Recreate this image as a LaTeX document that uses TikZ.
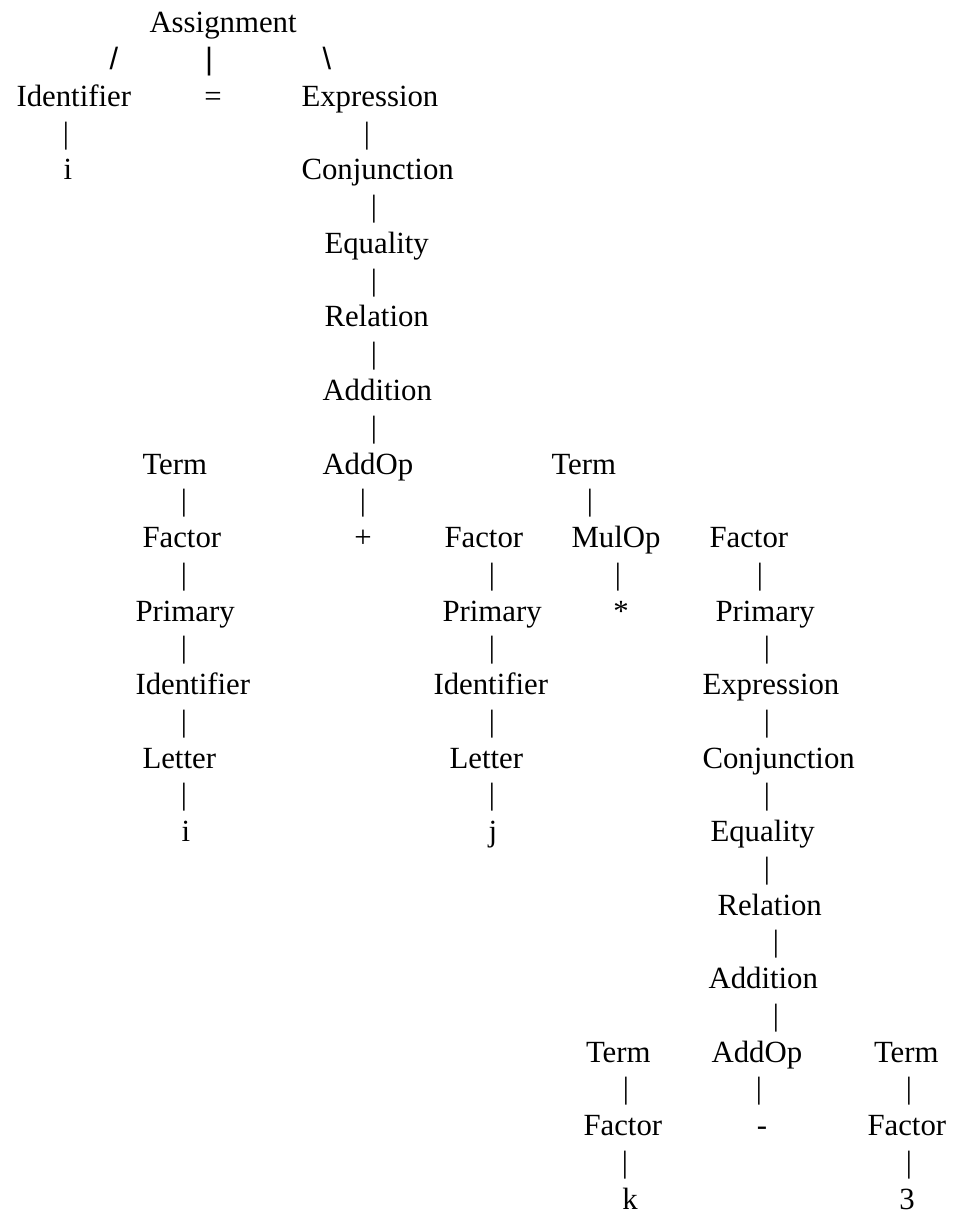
\documentclass[tikz,border=0pt]{standalone}
\usepackage{fontspec}
\setmainfont{Liberation Serif}
\newfontfamily\slfont{Liberation Sans}
\begin{document}
\begin{tikzpicture}[x=0.75pt,y=-27.5625pt,
  lbl/.style={anchor=base west,inner sep=0pt,outer sep=0pt,font=\fontsize{23.1}{27.7}\selectfont},
  ch/.style={anchor=base,inner sep=0pt,outer sep=0pt,font=\fontsize{23.1}{27.7}\selectfont},
  sl/.style={anchor=base,inner sep=0pt,outer sep=0pt,font=\slfont\fontsize{23.1}{27.7}\selectfont},
  bar/.style={ch}]
\useasboundingbox (0,0) rectangle (961,33.0612);
\begin{scope}[yshift=-24.75pt]
% row 0-4
\node[lbl] (asg) at (149.5,0) {Assignment};
\node[sl] (sa) at (114,1) {/};
\node[sl] (sb) at (209,1) {|};
\node[sl] (sc) at (327,1) {\textbackslash};
\node[lbl] (id1) at (16.5,2) {Identifier};
\node[ch] (eq) at (213,2) {=};
\node[lbl] (ex1) at (301.5,2) {Expression};
\node[bar] (b3a) at (66,3) {|};
\node[bar] (b3b) at (367,3) {|};
\node[ch] (i1) at (68,4) {i};
\node[lbl] (cj1) at (301.5,4) {Conjunction};
% middle column
\node[bar] (b5) at (374,5) {|};
\node[lbl] (eqa1) at (324.5,6) {Equality};
\node[bar] (b7) at (374,7) {|};
\node[lbl] (rel1) at (324.5,8) {Relation};
\node[bar] (b9) at (374,9) {|};
\node[lbl] (add1) at (322.5,10) {Addition};
\node[bar] (b11) at (374,11) {|};
% row 12
\node[lbl] (t1) at (142.5,12) {Term};
\node[lbl] (ao1) at (322.5,12) {AddOp};
\node[lbl] (t2) at (551.5,12) {Term};
\node[bar] (b13a) at (184,13) {|};
\node[bar] (b13b) at (363,13) {|};
\node[bar] (b13c) at (590,13) {|};
% row 14
\node[lbl] (f1) at (142.5,14) {Factor};
\node[ch] (plus) at (363,14) {+};
\node[lbl] (f2) at (444.5,14) {Factor};
\node[lbl] (mo) at (571.5,14) {MulOp};
\node[lbl] (f3) at (709.5,14) {Factor};
\node[bar] (b15a) at (184,15) {|};
\node[bar] (b15b) at (492,15) {|};
\node[bar] (b15c) at (618,15) {|};
\node[bar] (b15d) at (760,15) {|};
% row 16
\node[lbl] (p1) at (135.5,16) {Primary};
\node[ch] (star) at (621,16) {*};
\node[lbl] (p2) at (442.5,16) {Primary};
\node[lbl] (p3) at (715.5,16) {Primary};
\node[bar] (b17a) at (184,17) {|};
\node[bar] (b17b) at (492,17) {|};
\node[bar] (b17c) at (767,17) {|};
% row 18
\node[lbl] (id2) at (135.5,18) {Identifier};
\node[lbl] (id3) at (433.5,18) {Identifier};
\node[lbl] (ex2) at (702.5,18) {Expression};
\node[bar] (b19a) at (184,19) {|};
\node[bar] (b19b) at (492,19) {|};
\node[bar] (b19c) at (767,19) {|};
% row 20
\node[lbl] (le1) at (142.5,20) {Letter};
\node[lbl] (le2) at (449.5,20) {Letter};
\node[lbl] (cj2) at (702.5,20) {Conjunction};
\node[bar] (b21a) at (184,21) {|};
\node[bar] (b21b) at (492,21) {|};
\node[bar] (b21c) at (767,21) {|};
% row 22
\node[ch] (i2) at (186,22) {i};
\node[ch] (j) at (493,22) {j};
\node[lbl] (eqa2) at (710.5,22) {Equality};
\node[bar] (b23) at (767,23) {|};
\node[lbl] (rel2) at (717.5,24) {Relation};
\node[bar] (b25) at (776,25) {|};
\node[lbl] (add2) at (708.5,26) {Addition};
\node[bar] (b27) at (776,27) {|};
% row 28
\node[lbl] (t3) at (586,28) {Term};
\node[lbl] (ao2) at (711.5,28) {AddOp};
\node[lbl] (t4) at (874,28) {Term};
\node[bar] (b29a) at (626,29) {|};
\node[bar] (b29b) at (759,29) {|};
\node[bar] (b29c) at (909,29) {|};
% row 30
\node[lbl] (f4) at (583.5,30) {Factor};
\node[ch] (minus) at (762,30) {-};
\node[lbl] (f5) at (867.5,30) {Factor};
\node[bar] (b31a) at (625,31) {|};
\node[bar] (b31b) at (909,31) {|};
\node[ch] (k) at (630,32) {k};
\node[ch] (three) at (907,32) {3};
\end{scope}
\end{tikzpicture}
\end{document}
